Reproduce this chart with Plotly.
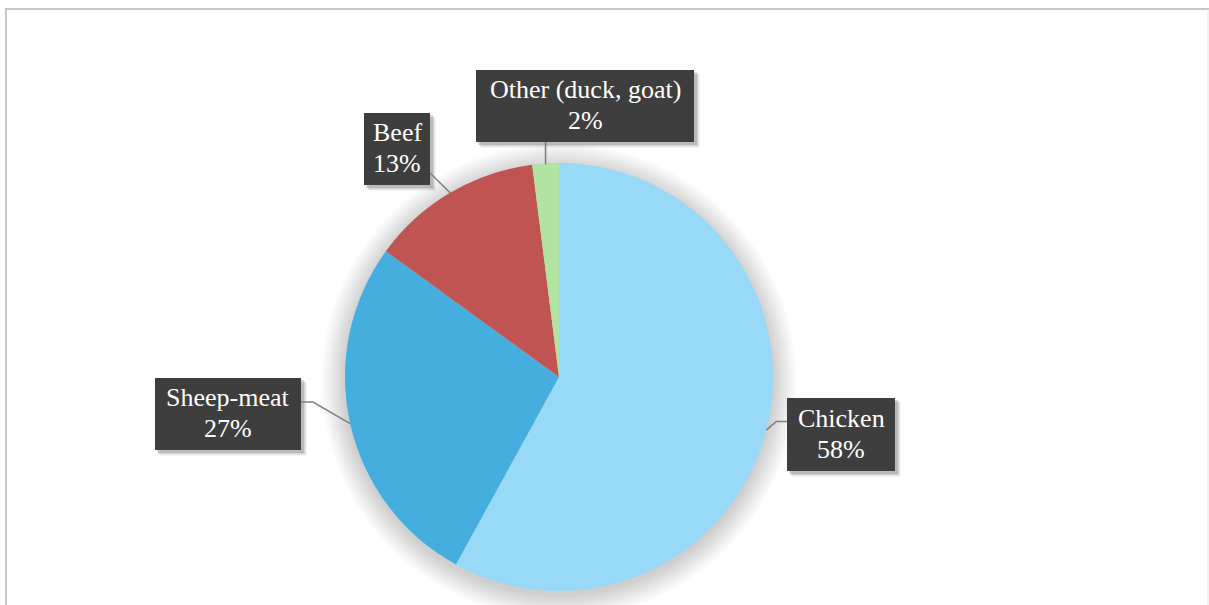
import math
import plotly.graph_objects as go

# Meat consumption shares
categories = ["Chicken", "Sheep-meat", "Beef", "Other (duck, goat)"]
shares = [58, 27, 13, 2]
colors = ["#97D9F6", "#45AEDF", "#C05452", "#B3E3A1"]

W, H = 1209, 605
CX, CY, R = 559, 377, 214  # pie centre and radius in pixels
SERIF = "Liberation Serif, Times New Roman, DejaVu Serif, serif"


def px(x):
    return x / W


def py(y):
    return 1 - y / H


fig = go.Figure()
fig.add_trace(go.Pie(
    labels=categories,
    values=shares,
    sort=False,
    direction="clockwise",
    rotation=0,
    textinfo="none",
    hoverinfo="label+percent",
    marker=dict(colors=colors, line=dict(width=0)),
    showlegend=False,
    domain=dict(x=[px(CX - R), px(CX + R)], y=[py(CY + R), py(CY - R)]),
))

shapes = []

# soft outer shadow under the pie
for k in range(24, 0, -1):
    rr = R + k
    oy = 4
    shapes.append(dict(
        type="circle", xref="paper", yref="paper", layer="below",
        x0=px(CX - rr), x1=px(CX + rr), y0=py(CY + oy + rr), y1=py(CY + oy - rr),
        fillcolor="rgba(0,0,0,0.0065)", line=dict(width=0),
    ))

# label boxes: left, right, top, bottom (pixels)
boxes = {
    "Chicken": (787, 895, 398, 471),
    "Sheep-meat": (155, 301, 378, 450),
    "Beef": (364, 430, 113, 185),
    "Other (duck, goat)": (476, 694, 70, 142),
}

total = sum(shares)
cum = 0
annotations = []
for cat, val in zip(categories, shares):
    mid = (cum + val / 2) / total * 2 * math.pi
    cum += val
    ex = CX + R * math.sin(mid)
    ey = CY - R * math.cos(mid)
    x0, x1, y0, y1 = boxes[cat]
    bx = (x0 + x1) / 2
    by = (y0 + y1) / 2

    # box drop shadow
    for s, a in [(6, 0.04), (5, 0.06), (4, 0.08), (3, 0.12)]:
        shapes.append(dict(
            type="rect", xref="paper", yref="paper", layer="below",
            x0=px(x0 + s - 1), x1=px(x1 + s), y0=py(y1 + s), y1=py(y0 + s - 1),
            fillcolor=f"rgba(0,0,0,{a})", line=dict(width=0),
        ))

    # leader line from slice edge to box
    if cat == "Chicken":
        pts = [(ex, ey), (ex + 10, by - 13), (x0, by - 13)]
    elif cat == "Sheep-meat":
        pts = [(ex, ey), (x1 + 12, 402), (x1, 402)]
    elif cat == "Beef":
        pts = [(ex, ey), (x1, 173)]
    else:
        pts = [(ex, ey + 1), (ex, y1)]
    path = "M " + " L ".join(f"{px(a)},{py(b)}" for a, b in pts)
    shapes.append(dict(
        type="path", xref="paper", yref="paper", path=path, layer="above",
        line=dict(color="#808080", width=1.6),
    ))

    # label box
    shapes.append(dict(
        type="rect", xref="paper", yref="paper", layer="above",
        x0=px(x0), x1=px(x1), y0=py(y1), y1=py(y0),
        fillcolor="#3E3E3E", line=dict(width=0),
    ))

    # two text lines: category name and share
    for text, dy in [(cat, -15.5), (f"{val}%", 15.5)]:
        annotations.append(dict(
            x=px(bx), y=py(by + dy - 1), xref="paper", yref="paper",
            xanchor="center", yanchor="middle",
            text=text, showarrow=False,
            font=dict(family=SERIF, size=26, color="#FFFFFF"),
        ))

# chart frame
shapes.append(dict(type="line", xref="paper", yref="paper", layer="above",
                   x0=px(6), x1=px(6), y0=py(9), y1=py(610),
                   line=dict(color="#C6C6C6", width=2)))
shapes.append(dict(type="line", xref="paper", yref="paper", layer="above",
                   x0=px(5), x1=px(1209), y0=py(9), y1=py(9),
                   line=dict(color="#C6C6C6", width=2)))
shapes.append(dict(type="line", xref="paper", yref="paper", layer="above",
                   x0=px(1208), x1=px(1208), y0=py(9), y1=py(610),
                   line=dict(color="#E6E6E6", width=1)))

fig.update_layout(
    width=W, height=H,
    margin=dict(l=0, r=0, t=0, b=0),
    paper_bgcolor="#FFFFFF",
    plot_bgcolor="#FFFFFF",
    font=dict(family=SERIF),
    shapes=shapes,
    annotations=annotations,
    showlegend=False,
)

fig.write_html("out.html")
